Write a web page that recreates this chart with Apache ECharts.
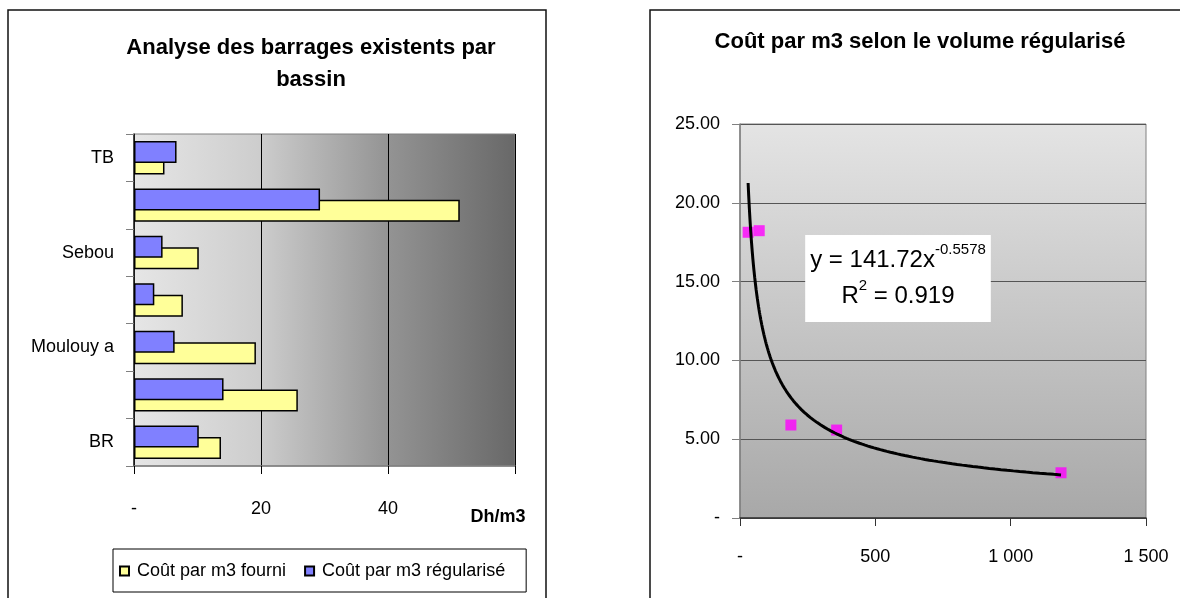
<!DOCTYPE html>
<html><head><meta charset="utf-8">
<script src="https://cdn.jsdelivr.net/npm/echarts@6/dist/echarts.min.js"></script>
<style>html,body{margin:0;padding:0;background:#fff}#c{width:1180px;height:598px}</style>
</head><body><div id="c"></div>
<script>
// ---- Left chart data: cost per m3 by basin (Dh/m3), bottom to top ----
const basins = ['BR', 'Loukkos', 'Moulouy a', 'Oum Er Rbia', 'Sebou', 'Souss-Massa', 'TB'];
const costSupplied = [13.7, 25.8, 19.2, 7.7, 10.2, 51.3, 4.8];
const costRegulated = [10.2, 14.1, 6.4, 3.2, 4.5, 29.3, 6.7];
const seriesNames = ['Coût par m3 fourni', 'Coût par m3 régularisé'];

// ---- Right chart data: cost per m3 vs regulated volume ----
const volumeRegulated = [30, 71, 188, 357, 1186];
const costPerM3 = [18.13, 18.23, 5.90, 5.58, 2.87];
// power trendline shown in the chart
const TREND_A = 141.72, TREND_B = -0.5578, TREND_R2 = 0.919;

const FONT = 'Liberation Sans, Arial, sans-serif';

// trendline samples between the min and max observed volume
const trend = [];
(function () {
  const x0 = Math.min(...volumeRegulated), x1 = Math.max(...volumeRegulated);
  const n = 160;
  for (let i = 0; i <= n; i++) {
    const x = x0 * Math.pow(x1 / x0, i / n);
    trend.push([x, TREND_A * Math.pow(x, TREND_B)]);
  }
})();

const chart = echarts.init(document.getElementById('c'), null, {renderer: 'canvas'});
const option = {
  animation: false,
  textStyle: {fontFamily: FONT, color: '#000'},
  title: [
    {text: 'Analyse des barrages existents par\nbassin', left: 311, top: 32, textAlign: 'center', padding: 0,
     textStyle: {fontFamily: FONT, fontSize: 22, fontWeight: 'bold', color: '#000', lineHeight: 32}},
    {text: 'Coût par m3 selon le volume régularisé', left: 920, top: 29, textAlign: 'center', padding: 0,
     textStyle: {fontFamily: FONT, fontSize: 22, fontWeight: 'bold', color: '#000', lineHeight: 26}},
    {text: 'Dh/m3', left: 498, top: 507, textAlign: 'center', padding: 0,
     textStyle: {fontFamily: FONT, fontSize: 18, fontWeight: 'bold', color: '#000', lineHeight: 20}},
    {text: '{a|y = ' + TREND_A + 'x}{s|' + TREND_B + '}\n{a|R}{s|2}{a| = ' + TREND_R2 + '}',
     left: 893, top: 235, textAlign: 'center', padding: [7, 5, 8, 5], backgroundColor: '#fff',
     textStyle: {fontFamily: FONT, fontSize: 24, fontWeight: 'normal', color: '#000', lineHeight: 36,
       rich: {
         a: {fontFamily: FONT, fontSize: 24, fontWeight: 'normal', color: '#000', lineHeight: 36},
         s: {fontFamily: FONT, fontSize: 15, fontWeight: 'normal', color: '#000', lineHeight: 14, verticalAlign: 'top'}
       }}}
  ],
  legend: {
    data: seriesNames, left: 113, top: 549, orient: 'horizontal',
    icon: 'path://M0,0h10v10h-10z', symbolKeepAspect: true,
    itemWidth: 15, itemHeight: 9, itemGap: 18, padding: [13, 21, 12, 6],
    borderColor: '#000', borderWidth: 1, backgroundColor: '#fff',
    textStyle: {fontFamily: FONT, fontSize: 18, color: '#000'}
  },
  graphic: [
    {type: 'rect', shape: {x: 8, y: 10, width: 538, height: 620}, style: {fill: 'none', stroke: '#111', lineWidth: 1.5}, z: -10},
    {type: 'rect', shape: {x: 650, y: 10, width: 560, height: 620}, style: {fill: 'none', stroke: '#111', lineWidth: 1.5}, z: -10}
  ],
  grid: [
    {left: 134, top: 134, width: 381, height: 332, show: true, borderColor: '#808080', borderWidth: 1,
     backgroundColor: {type: 'linear', x: 0, y: 0, x2: 1, y2: 0, colorStops: [
       {offset: 0, color: '#E6E6E6'}, {offset: 0.33, color: '#CDCDCD'},
       {offset: 0.67, color: '#939393'}, {offset: 1, color: '#686868'}]}},
    {left: 740, top: 124, width: 406, height: 394, show: true, borderColor: '#808080', borderWidth: 1,
     backgroundColor: {type: 'linear', x: 0, y: 0, x2: 0, y2: 1, colorStops: [
       {offset: 0, color: '#E4E4E4'}, {offset: 1, color: '#A8A8A8'}]}}
  ],
  xAxis: [
    {gridIndex: 0, type: 'value', min: 0, max: 60, interval: 20,
     axisLine: {show: true, lineStyle: {color: '#808080', width: 1.5}},
     axisTick: {show: true, length: 8, lineStyle: {color: '#000'}},
     axisLabel: {margin: 34, fontSize: 18, color: '#000', fontFamily: FONT,
       formatter: v => v === 0 ? '-' : (v === 60 ? '' : String(v))},
     splitLine: {show: true, lineStyle: {color: '#000', width: 1}}},
    {gridIndex: 1, type: 'value', min: 0, max: 1500, interval: 500,
     axisLine: {show: true, lineStyle: {color: '#333', width: 1.5}},
     axisTick: {show: true, length: 8, lineStyle: {color: '#333'}},
     axisLabel: {margin: 30, fontSize: 18, color: '#000', fontFamily: FONT,
       formatter: v => v === 0 ? '-' : (v >= 1000 ? Math.floor(v / 1000) + ' ' + String(v % 1000).padStart(3, '0') : String(v))},
     splitLine: {show: false}}
  ],
  yAxis: [
    {gridIndex: 0, type: 'category', data: basins,
     axisLine: {show: true, lineStyle: {color: '#222', width: 1.5}},
     axisTick: {show: true, length: 8, interval: 0, lineStyle: {color: '#808080'}},
     axisLabel: {interval: 1, margin: 20, fontSize: 18, color: '#000', fontFamily: FONT},
     splitLine: {show: false}},
    {gridIndex: 1, type: 'value', min: 0, max: 25, interval: 5,
     axisLine: {show: true, lineStyle: {color: '#808080', width: 1.5}},
     axisTick: {show: true, length: 8, lineStyle: {color: '#808080'}},
     axisLabel: {margin: 20, fontSize: 18, color: '#000', fontFamily: FONT,
       formatter: v => v === 0 ? '-' : v.toFixed(2)},
     splitLine: {show: true, lineStyle: {color: '#555', width: 1}}}
  ],
  series: [
    // first series in a horizontal bar group sits on top of the band
    {type: 'bar', name: seriesNames[1], xAxisIndex: 0, yAxisIndex: 0, data: costRegulated,
     barWidth: 22, barGap: '-48%', z: 3,
     itemStyle: {color: '#8080FF', borderColor: '#000', borderWidth: 1.5}},
    {type: 'bar', name: seriesNames[0], xAxisIndex: 0, yAxisIndex: 0, data: costSupplied,
     barWidth: 22, barGap: '-48%', z: 2,
     itemStyle: {color: '#FFFF99', borderColor: '#000', borderWidth: 1.5}},
    {type: 'scatter', name: 'points', xAxisIndex: 1, yAxisIndex: 1,
     data: volumeRegulated.map((v, i) => [v, costPerM3[i]]),
     symbol: 'rect', symbolSize: 11, itemStyle: {color: '#FF00FF'}, z: 3},
    {type: 'line', name: 'tendance', xAxisIndex: 1, yAxisIndex: 1, data: trend,
     showSymbol: false, symbol: 'none', lineStyle: {color: '#000', width: 3}, z: 4, silent: true}
  ]
};
chart.setOption(option);
</script></body></html>
